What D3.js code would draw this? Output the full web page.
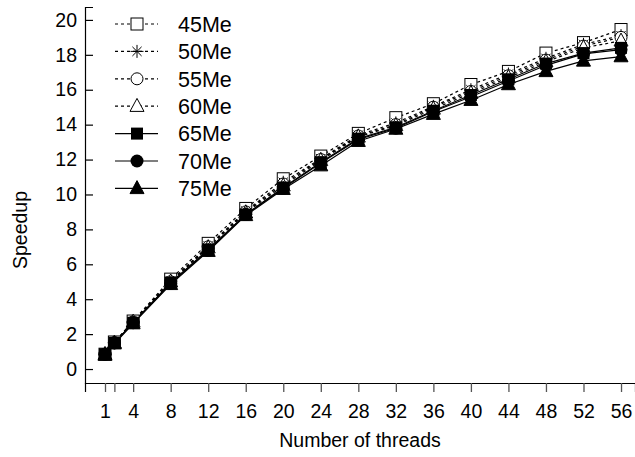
<!DOCTYPE html>
<html><head><meta charset="utf-8">
<script src="https://cdn.jsdelivr.net/npm/d3@7"></script>
<style>body{margin:0;background:#fff}svg{display:block}text{font-family:"Liberation Sans",Arial,sans-serif;fill:#000}</style>
</head><body><svg id="c" width="635" height="457"></svg>
<script>
const threads = [1,2,4,8,12,16,20,24,28,32,36,40,44,48,52,56];
const xTickLabels = ["1","","4","8","12","16","20","24","28","32","36","40","44","48","52","56"];
const yTicks = [0,2,4,6,8,10,12,14,16,18,20];
const seriesNames = ["45Me","50Me","55Me","60Me","65Me","70Me","75Me"];
const s45 = [0.85,1.55,2.75,5.15,7.2,9.2,10.9,12.2,13.5,14.4,15.2,16.3,17.05,18.1,18.7,19.45];
const s50 = [0.85,1.5,2.7,5.05,7.05,9.05,10.7,12.05,13.4,14.1,15.05,16.0,16.9,17.8,18.6,19.1];
const s55 = [0.85,1.5,2.7,5.0,7.0,9.0,10.6,12.0,13.35,14.0,15.0,15.9,16.8,17.7,18.5,19.0];
const s60 = [0.85,1.5,2.7,5.0,6.95,8.95,10.5,11.95,13.3,13.95,14.9,15.8,16.7,17.6,18.4,18.8];
const s65 = [0.85,1.5,2.65,4.95,6.85,8.85,10.4,11.85,13.2,13.85,14.8,15.7,16.6,17.5,18.1,18.4];
const s70 = [0.85,1.5,2.65,4.9,6.8,8.85,10.35,11.8,13.15,13.8,14.75,15.6,16.5,17.4,18.05,18.3];
const s75 = [0.8,1.45,2.6,4.85,6.75,8.8,10.3,11.65,13.05,13.75,14.6,15.4,16.3,17.05,17.65,17.9];
const allSeries = [s45,s50,s55,s60,s65,s70,s75];
const markerTypes = ["squareOpen","star","circleOpen","triangleOpen","squareFilled","circleFilled","triangleFilled"];
const dashed = [true,true,true,true,false,false,false];

const svg = d3.select("#c");
const x = d3.scaleLinear().domain([-1.132,57.49]).range([85,635]);
const y = d3.scaleLinear().domain([-0.80,20.74]).range([383,7]);

// axes
const gx = svg.append("g").attr("transform","translate(0,383)")
  .call(d3.axisBottom(x).tickValues(threads).tickFormat((d,i)=>xTickLabels[i]).tickSizeOuter(0).tickSize(9).tickPadding(12));
gx.select(".domain").attr("stroke","#000").attr("stroke-width",1.2);
gx.selectAll(".tick line").attr("stroke","#555").attr("stroke-width",1.3);
gx.selectAll(".tick text").attr("font-size",19.5).attr("fill","#000").style("font-family","'Liberation Sans',Arial,sans-serif");

const gy = svg.append("g").attr("transform","translate(85,0)")
  .call(d3.axisLeft(y).tickValues(yTicks).tickSizeOuter(0).tickSize(-8).tickPadding(8));
gy.select(".domain").attr("stroke","#000").attr("stroke-width",1.2);
gy.selectAll(".tick line").attr("stroke","#000").attr("stroke-width",1.2);
gy.selectAll(".tick text").attr("font-size",19.5).attr("fill","#000").style("font-family","'Liberation Sans',Arial,sans-serif");

svg.append("text").attr("x",360).attr("y",447).attr("text-anchor","middle").attr("font-size",19.5).text("Number of threads");
svg.append("text").attr("transform","translate(27,230) rotate(-90)").attr("text-anchor","middle").attr("font-size",19.5).text("Speedup");

function drawMarker(g, type, cx, cy) {
  const s = 6;
  if (type==="squareOpen") g.append("rect").attr("x",cx-s).attr("y",cy-s).attr("width",2*s).attr("height",2*s).attr("fill","#fff").attr("stroke","#000").attr("stroke-width",1);
  else if (type==="squareFilled") g.append("rect").attr("x",cx-s).attr("y",cy-s).attr("width",2*s).attr("height",2*s).attr("fill","#000");
  else if (type==="circleOpen") g.append("circle").attr("cx",cx).attr("cy",cy).attr("r",s).attr("fill","#fff").attr("stroke","#000").attr("stroke-width",1);
  else if (type==="circleFilled") g.append("circle").attr("cx",cx).attr("cy",cy).attr("r",s+0.5).attr("fill","#000");
  else if (type==="triangleOpen" || type==="triangleFilled") {
    const h = 2*s+1;
    const p = [[cx,cy-h*0.6],[cx-s-1,cy+h*0.4],[cx+s+1,cy+h*0.4]];
    g.append("polygon").attr("points",p.map(q=>q.join(",")).join(" "))
      .attr("fill", type==="triangleFilled"?"#000":"#fff").attr("stroke","#000").attr("stroke-width",1);
  } else if (type==="star") {
    const r = s+0.5;
    for (let k=0;k<4;k++){
      const a = k*Math.PI/4;
      g.append("line").attr("x1",cx-r*Math.cos(a)).attr("y1",cy-r*Math.sin(a)).attr("x2",cx+r*Math.cos(a)).attr("y2",cy+r*Math.sin(a)).attr("stroke","#000").attr("stroke-width",1);
    }
  }
}

const line = d3.line().x((d,i)=>x(threads[i])).y(d=>y(d));
allSeries.forEach((ser,si)=>{
  svg.append("path").datum(ser).attr("d",line).attr("fill","none").attr("stroke","#000")
    .attr("stroke-width",1.2).attr("stroke-dasharray",dashed[si]?"3,3":null);
});
allSeries.forEach((ser,si)=>{
  const g = svg.append("g");
  ser.forEach((v,i)=>drawMarker(g, markerTypes[si], x(threads[i]), y(v)));
});

// legend
seriesNames.forEach((n,i)=>{
  const ly = 24 + i*27.4;
  const g = svg.append("g");
  g.append("line").attr("x1",115).attr("x2",158).attr("y1",ly).attr("y2",ly).attr("stroke","#000").attr("stroke-width",1.2).attr("stroke-dasharray",dashed[i]?"3,3":null);
  drawMarker(g, markerTypes[i], 137, ly);
  g.append("text").attr("x",178).attr("y",ly).attr("dy","0.36em").attr("font-size",21.5).text(n);
});
</script></body></html>
